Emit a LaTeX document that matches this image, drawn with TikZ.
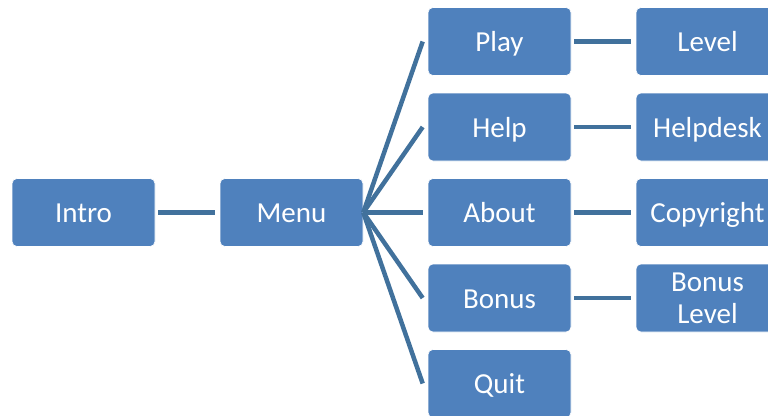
\documentclass[tikz,border=0pt]{standalone}
\usepackage{fontspec}
\setmainfont{Carlito}
\definecolor{boxfill}{HTML}{4F81BD}
\definecolor{linecol}{HTML}{41719C}
\begin{document}
\begin{tikzpicture}[x=1pt,y=1pt,
  boxbase/.style={rectangle, rounded corners=5pt, fill=boxfill, draw=white, line width=0.6pt,
    minimum width=143pt, minimum height=68pt, inner sep=0pt, text=white,
    font=\fontsize{29}{32}\selectfont, align=center},
  box/.style={boxbase, text height=22pt, text depth=2pt},
  conn/.style={draw=linecol, line width=4.5pt, line cap=butt}]
\useasboundingbox (0,0) rectangle (768,-415);
\node[box] (intro) at (83.5,-212.5) {Intro};
\node[box] (menu) at (291.5,-212.5) {Menu};
\node[box] (play) at (499.5,-41.5) {Play};
\node[box] (help) at (499.5,-127) {Help};
\node[box] (about) at (499.5,-212.5) {About};
\node[box] (bonus) at (499.5,-298) {Bonus};
\node[box] (quit) at (499.5,-383.5) {Quit};
\node[box] (level) at (707.5,-41.5) {Level};
\node[box] (helpdesk) at (707.5,-127) {Helpdesk};
\node[box] (copyright) at (707.5,-212.5) {Copyright};
\node[boxbase] (blevel) at (707.5,-298) {Bonus\\Level};
\draw[conn] ([xshift=3pt]intro.east) -- ([xshift=-5pt]menu.west);
\foreach \t in {play,help,about,bonus,quit}
  \draw[conn] (menu.east) -- ([xshift=-5pt]\t.west);
\draw[conn] ([xshift=3pt]play.east) -- ([xshift=-5pt]level.west);
\draw[conn] ([xshift=3pt]help.east) -- ([xshift=-5pt]helpdesk.west);
\draw[conn] ([xshift=3pt]about.east) -- ([xshift=-5pt]copyright.west);
\draw[conn] ([xshift=3pt]bonus.east) -- ([xshift=-5pt]blevel.west);
\end{tikzpicture}
\end{document}
